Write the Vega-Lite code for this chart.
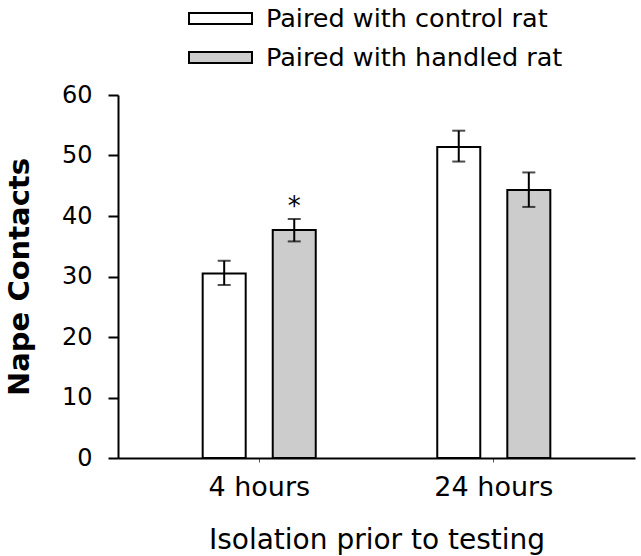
{
  "$schema": "https://vega.github.io/schema/vega-lite/v6.json",
  "width": 517,
  "height": 363,
  "autosize": {"type": "none"},
  "padding": {"left": 118, "top": 95, "right": 6, "bottom": 98},
  "background": "white",
  "config": {
    "view": {"stroke": null},
    "font": "DejaVu Sans",
    "axis": {"domainColor": "black", "domainWidth": 2, "tickColor": "black", "grid": false, "labelColor": "black", "titleColor": "black", "labelFont": "DejaVu Sans", "titleFont": "DejaVu Sans"}
  },
  "data": {
    "values": [
      {"iso": "4 hours", "group": "Paired with control rat", "value": 30.5, "lo": 28.6, "hi": 32.6, "sig": ""},
      {"iso": "4 hours", "group": "Paired with handled rat", "value": 37.7, "lo": 35.8, "hi": 39.5, "sig": "*"},
      {"iso": "24 hours", "group": "Paired with control rat", "value": 51.4, "lo": 49.0, "hi": 54.1, "sig": ""},
      {"iso": "24 hours", "group": "Paired with handled rat", "value": 44.3, "lo": 41.5, "hi": 47.2, "sig": ""}
    ]
  },
  "encoding": {
    "x": {
      "field": "iso", "type": "nominal", "sort": ["4 hours", "24 hours"],
      "scale": {"paddingInner": 0.518, "paddingOuter": 0.361},
      "axis": {"title": "Isolation prior to testing", "labelAngle": 0, "labelFontSize": 27, "titleFontSize": 28, "titleFontWeight": "normal", "tickSize": 4, "tickWidth": 1, "tickColor": "#555", "labelPadding": 12, "titlePadding": 26}
    },
    "xOffset": {"field": "group", "type": "nominal", "scale": {"paddingInner": 0.386, "paddingOuter": 0}}
  },
  "layer": [
    {
      "mark": {"type": "bar", "stroke": "black", "strokeWidth": 2},
      "encoding": {
        "y": {
          "field": "value", "type": "quantitative",
          "scale": {"domain": [0, 60], "nice": false},
          "axis": {"title": "Nape Contacts", "values": [0, 10, 20, 30, 40, 50, 60], "labelFontSize": 24, "titleFontSize": 29, "titleFontWeight": "bold", "tickSize": 10, "tickWidth": 2, "labelPadding": 16, "titlePadding": 27}
        },
        "fill": {
          "field": "group", "type": "nominal",
          "scale": {"range": ["white", "#cccccc"]},
          "legend": {
            "title": null, "orient": "none", "legendX": 84, "legendY": -95,
            "symbolType": "M-1.8,-0.314H1.8V0.314H-1.8Z", "symbolSize": 1225,
            "symbolStrokeColor": "black", "symbolStrokeWidth": 2,
            "labelFontSize": 25.5, "labelFont": "DejaVu Sans", "labelColor": "black",
            "labelOffset": 27, "rowPadding": 7, "labelLimit": 400
          }
        }
      }
    },
    {
      "mark": {"type": "rule", "color": "black", "strokeWidth": 2},
      "encoding": {"y": {"field": "lo", "type": "quantitative"}, "y2": {"field": "hi"}}
    },
    {
      "mark": {"type": "tick", "color": "black", "size": 13, "thickness": 2},
      "encoding": {"y": {"field": "lo", "type": "quantitative"}}
    },
    {
      "mark": {"type": "tick", "color": "black", "size": 13, "thickness": 2},
      "encoding": {"y": {"field": "hi", "type": "quantitative"}}
    },
    {
      "mark": {"type": "text", "fontSize": 26, "baseline": "alphabetic", "dy": -4, "color": "black", "font": "DejaVu Sans"},
      "encoding": {"y": {"field": "hi", "type": "quantitative"}, "text": {"field": "sig"}}
    }
  ]
}
